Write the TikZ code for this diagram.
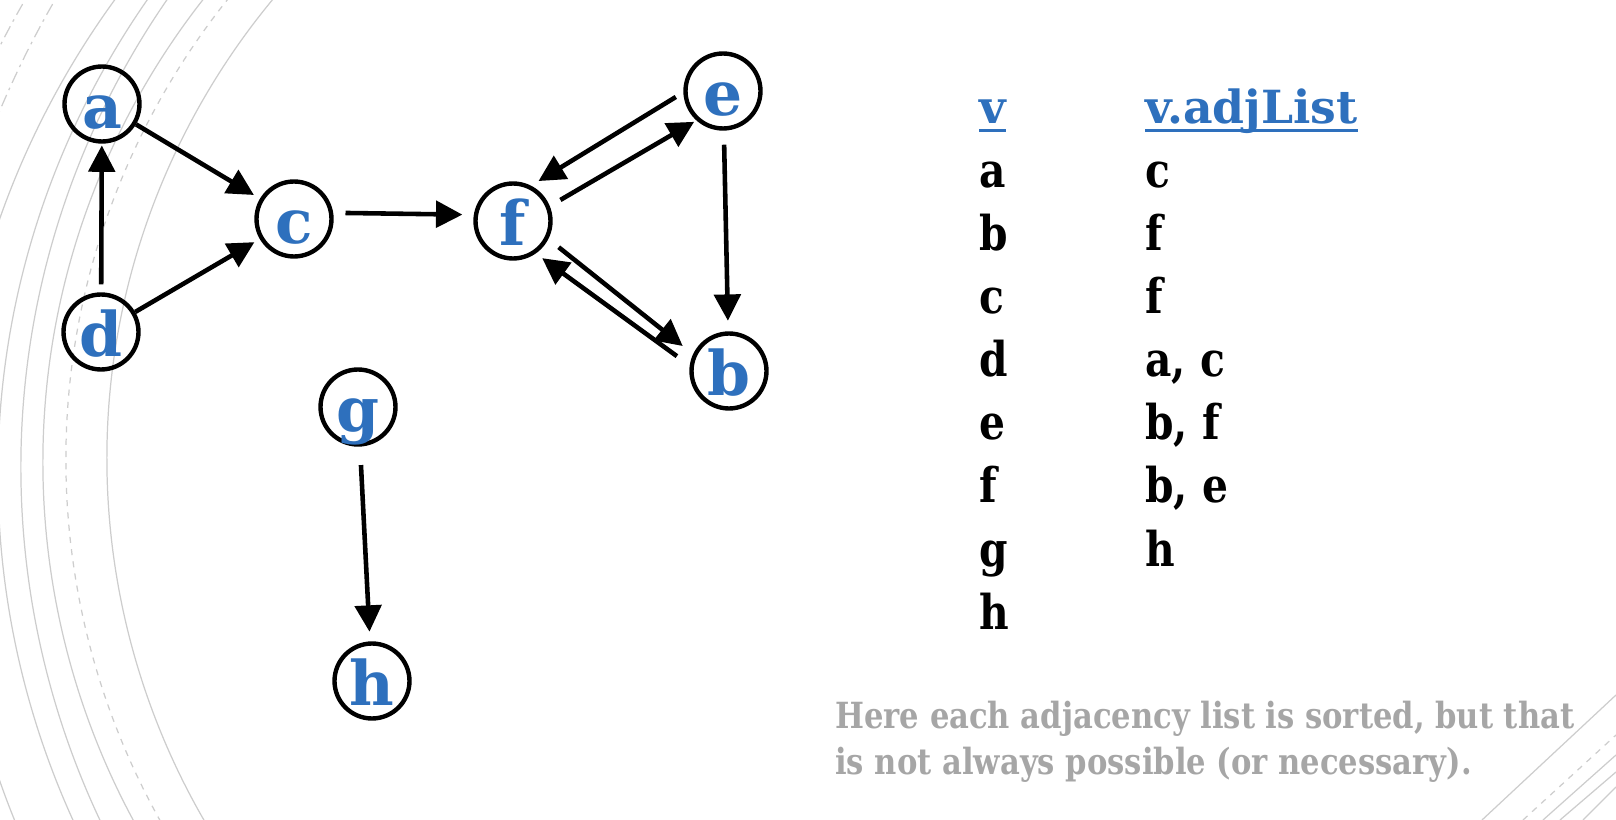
\documentclass[tikz,border=0pt]{standalone}
\usepackage{fontspec}
\setmainfont{DejaVu Serif}
\newfontfamily\rockfont{DejaVu Serif}
\newfontfamily\rocknarrow[FakeStretch=0.85]{DejaVu Serif}
\newfontfamily\notefont[FakeStretch=0.85]{DejaVu Serif}
\usepackage{tikz}
\usetikzlibrary{arrows.meta}
\definecolor{nodeblue}{RGB}{46,112,189}
\definecolor{notegray}{RGB}{166,166,166}
\definecolor{arcgray}{RGB}{205,205,205}
\newcommand{\ulhead}[1]{\setbox0\hbox{#1}\rlap{\rule[-0.16cm]{\wd0}{0.06cm}}\box0}

\begin{document}
\begin{tikzpicture}[x=0.02cm, y=-0.02cm,
		vert/.style={circle, draw, line width=2.5pt, minimum size=1.5cm, inner sep=0pt, text=nodeblue, font=\rockfont\bfseries\fontsize{35}{35}\selectfont, text height=1cm, text depth=0pt},
		link/.style={line width=2.6pt, -{Triangle[length=15pt, width=15pt]}},
		arcsolid/.style={draw=arcgray, line width=0.7pt},
		arcdash/.style={draw=arcgray, line width=0.7pt, dash pattern=on 3.5pt off 3.5pt},
		arcdashdot/.style={draw=arcgray, line width=0.7pt, dash pattern=on 7pt off 3pt on 1.5pt off 3pt},
		hd/.style={anchor=base west, inner sep=0pt, text=nodeblue, font=\rockfont\bfseries\fontsize{26}{26}\selectfont},
		cell/.style={anchor=base west, inner sep=0pt, font=\rocknarrow\bfseries\fontsize{27.3}{27.3}\selectfont},
		note/.style={anchor=base west, inner sep=0pt, text=notegray, font=\notefont\bfseries\fontsize{20.5}{20.5}\selectfont}
		]
		\useasboundingbox (0,0) rectangle (1616,820);
		
		\begin{scope}
		\clip (0,0) rectangle (1616,820);
		\foreach \cx/\cy/\rr/\sty in {827/459/720/arcsolid, 803/460/737/arcdash, 794/463/751/arcsolid, 845/468/824/arcsolid, 829/475/831/arcsolid, 802/500/850/arcsolid, 921/500/1000/arcdashdot, 891/500/1000/arcdashdot}
		\draw[\sty] (\cx,\cy) ++(120:\rr) arc[start angle=120, end angle=240, radius=\rr];
		\draw[arcsolid] (1482,820) -- (1616,695);
		\draw[arcdash] (1523,820) -- (1616,735);
		\draw[arcsolid] (1543,820) -- (1616,755);
		\draw[arcsolid] (1560,820) -- (1616,772);
		\draw[arcsolid] (1583,820) -- (1616,787);
		\end{scope}
		
		\node[vert] (a) at (102,104) {a};
		\node[vert] (c) at (294,219) {c};
		\node[vert] (d) at (101,332) {d};
		\node[vert] (f) at (513,221) {f};
		\node[vert] (e) at (723,91) {e};
		\node[vert] (b) at (729,371) {b};
		\node[vert] (g) at (358,407) {g};
		\node[vert] (h) at (372,681) {h};
		
		\draw[link, shorten >=4pt] (a) -- (c);
		\draw[link, shorten <=4.5pt, shorten >=1pt] (d) -- (a);
		\draw[link, shorten >=3.5pt] (d) -- (c);
		\draw[link, shorten <=7pt, shorten >=6.5pt] (c.9) -- (f.171);
		\draw[link, shorten <=5pt, shorten >=5pt] (e.182) -- (f.63);
		\draw[link, shorten <=7pt, shorten >=1.5pt] (f.22) -- (e.228);
		\draw[link, shorten <=8pt, shorten >=6pt] (e) -- (b);
		\draw[link, shorten <=7.5pt, shorten >=7.5pt] (f.333) -- (b.155);
		\draw[link, shorten <=9pt, shorten >=4.5pt] (b.172) -- (f.305);
		\draw[link, shorten <=10.5pt, shorten >=5.5pt] (g) -- (h);
		
		\node[hd] (vhead) at (979,124) {\ulhead{v}};
		\node[hd] (adjhead) at (1145,124) {\ulhead{v.adjList}};
		\foreach \v [count=\r from 0] in {a,b,c,d,e,f,g,h}
		\node[cell] (v\v) at (979, 188+63*\r) {\v};
		\foreach \adj [count=\r from 0] in {c, f, f, {a, c}, {b, f}, {b, e}, h}
		\node[cell] (adj\r) at (1145, 188+63*\r) {\adj};
		
		\node[note] (note1) at (835,728) {Here each adjacency list is sorted, but that};
		\node[note] (note2) at (835,774) {is not always possible (or necessary).};
		
\end{tikzpicture}
\end{document}
